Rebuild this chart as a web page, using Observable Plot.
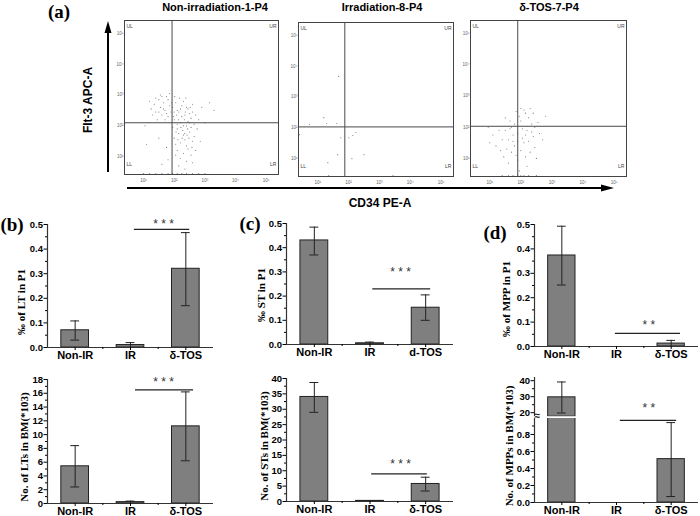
<!DOCTYPE html>
<html><head><meta charset="utf-8">
<script src="https://cdn.jsdelivr.net/npm/d3@7"></script>
<script src="https://cdn.jsdelivr.net/npm/@observablehq/plot@0.6"></script>
<style>
body{margin:0;background:#fff;}
#root{position:relative;width:700px;height:516px;overflow:hidden;background:#fff;font-family:'Liberation Sans',Arial,sans-serif;color:#000;}
.lbl{position:absolute;transform:translate(-50%,-50%);white-space:nowrap;line-height:1;}
.pl{font-family:'Liberation Serif','Times New Roman',serif;font-weight:bold;font-size:19px;}
.tt{font-weight:bold;font-size:11px;}
.ax{font-weight:bold;font-size:12px;}
.yl{font-family:'Liberation Serif','Times New Roman',serif;font-weight:bold;font-size:11px;transform:translate(-50%,-50%) rotate(-90deg);}
</style></head><body><div id="root"></div>
<script>
// ---------- data ----------
const groupsB = ["Non-IR", "IR", "δ-TOS"];
const groupsC = ["Non-IR", "IR", "d-TOS"];

// (b) long-term HSC
const ltPct = [0.07, 0.01, 0.32];
const ltPctLo = [0.03, 0.0, 0.17];
const ltPctHi = [0.108, 0.02, 0.467];
const ltNum = [5.4, 0.2, 11.2];
const ltNumLo = [2.4, 0.0, 6.2];
const ltNumHi = [8.4, 0.35, 16.2];

// (c) short-term HSC
const stPct = [0.43, 0.005, 0.152];
const stPctLo = [0.37, 0.0, 0.1];
const stPctHi = [0.485, 0.01, 0.205];
const stNum = [34, 0.2, 5.7];
const stNumLo = [29, 0.0, 3.4];
const stNumHi = [38.7, 0.3, 7.9];

// (d) MPP
const mppPct = [0.373, 0, 0.012];
const mppPctLo = [0.252, 0, 0.0];
const mppPctHi = [0.493, 0, 0.025];
const mppNum = [29.6, 0, 0.51];
const mppNumLo = [19.8, 0, 0.07];
const mppNumHi = [39.2, 0, 0.94];

// tick labels
const pctTicks = [0, 0.1, 0.2, 0.3, 0.4, 0.5];
const pctMinor = [0.05, 0.15, 0.25, 0.35, 0.45];
const ltTicks = [0, 2, 4, 6, 8, 10, 12, 14, 16, 18];
const ltMinor = [1, 3, 5, 7, 9, 11, 13, 15, 17];
const stTicks = [0, 5, 10, 15, 20, 25, 30, 35, 40];
const stMinor = [2.5, 7.5, 12.5, 17.5, 22.5, 27.5, 32.5, 37.5];
const mppLowTicks = [0, 0.2, 0.4, 0.6, 0.8];
const mppLowMinor = [0.1, 0.3, 0.5, 0.7, 0.9];
const mppHighTicks = [20, 30, 40];
const mppHighMinor = [25, 35];
const decadeTicks = [1, 2, 3, 4, 5];
const sup = ["⁰", "¹", "²", "³", "⁴", "⁵"];

// flow cytometry events (log10 CD34, log10 Flt-3)
const flowNonIR = [
  [1.25,2.55],[1.35,2.7],[1.4,2.45],[1.5,2.85],[1.55,2.6],[1.6,2.35],[1.65,2.75],[1.7,2.5],[1.75,2.95],[1.8,2.3],
  [1.85,2.65],[1.45,2.2],[1.3,2.35],[1.6,2.95],[1.7,2.2],[1.2,2.8],[1.5,2.45],[1.8,2.85],[1.9,2.45],[1.65,2.55],
  [1.55,3.0],[1.75,2.4],[1.4,2.9],[1.85,3.05],
  [1.95,2.6],[2.0,2.2],[2.05,2.75],[2.1,1.9],[2.15,2.45],[2.2,2.1],[2.25,2.65],[2.3,1.7],[2.35,2.35],[2.4,2.0],
  [2.45,2.55],[2.5,1.8],[2.55,2.25],[2.6,1.5],[2.65,2.05],[2.0,1.6],[2.1,2.5],[2.2,1.45],[2.3,2.8],[2.4,1.35],
  [2.5,2.4],[2.6,2.7],[1.95,1.95],[2.05,1.4],[2.15,1.75],[2.25,2.3],[2.35,1.55],[2.45,2.15],[2.55,1.95],[2.65,1.65],
  [2.7,2.35],[2.0,2.45],[2.1,2.05],[2.2,2.55],[2.3,2.0],[2.4,2.6],[2.5,2.1],[2.12,1.55],[2.28,1.85],[2.42,1.7],
  [2.18,2.9],[2.38,2.9],[2.02,2.95],[1.98,2.3],[2.6,2.45],[2.75,1.9],[2.8,2.2],[2.33,2.2],[2.48,1.6],[2.58,1.3],
  [2.08,2.35],[2.22,1.95],[2.36,2.45],[2.14,2.2],[2.26,1.6],[2.44,1.9],[1.92,2.75],[2.06,1.8],[2.52,2.6],[2.34,1.75],
  [2.1,1.2],[2.3,1.1],[2.45,1.25],[2.2,0.95],[2.4,0.85],[2.55,1.05],[2.15,0.7],[2.35,0.6],[2.6,0.8],[2.05,1.05],
  [1.8,0.9],[1.75,1.3],[2.7,1.2],
  [3.0,2.1],[3.15,2.75],[2.9,2.6],[1.05,2.0],[1.1,1.4],[1.5,1.6],[3.3,2.5],[1.6,0.75],[2.85,1.5],
  [1.0,0.45],[1.2,0.45],[1.4,0.45],[1.6,0.45],[1.8,0.45],[1.95,0.45],[2.1,0.45],[2.25,0.45],[2.4,0.45],[2.6,0.45],[2.8,0.45],[3.0,0.45]
];
const flowIR = [
  [1.68,3.67],[1.2,2.33],[0.74,2.11],[1.29,2.14],[1.62,2.14],[1.75,1.68],[2.01,1.68],[2.14,1.75],[2.24,1.85],
  [1.65,1.13],[2.11,1.0],[2.5,1.13],[1.33,0.87],[0.41,1.78],[1.36,0.45],[3.44,0.45]
];
const flowTOS = [
  [1.5,1.9],[1.6,1.6],[1.7,2.0],[1.8,1.4],[1.9,1.8],[2.0,2.2],[2.1,1.5],[2.2,1.9],[2.3,1.2],[2.4,1.7],
  [1.55,1.3],[1.65,2.2],[1.75,1.75],[1.85,1.1],[1.95,2.35],[2.05,1.65],[2.15,2.45],[2.25,1.55],[2.35,2.1],[2.45,1.35],
  [1.4,1.6],[1.3,1.9],[1.2,1.4],[1.1,1.75],[1.45,1.05],[1.6,0.85],[1.9,0.95],[2.0,1.25],[2.1,2.55],[2.25,2.3],
  [2.4,2.45],[2.0,2.6],[1.85,2.5],[2.3,2.6],[2.55,2.15],[2.6,1.8],[2.7,1.6],[2.5,1.0],[1.7,1.2],[1.8,2.1],
  [2.15,1.05],[1.35,1.25],[1.0,1.5],[0.95,2.0],[2.8,2.35],[1.95,0.6],[2.2,0.75],[1.5,2.3],[2.05,1.95],[1.75,1.55],
  [2.35,1.85],[2.45,2.0],[1.65,1.95],[1.9,1.55],[2.15,1.75],
  [1.4,0.45],[1.6,0.45],[1.75,0.45],[1.9,0.45],[2.0,0.45],[2.1,0.45],[2.25,0.45],[2.5,0.45]
];

// ---------- helpers ----------
const root = document.getElementById("root");
function place(el, left, top) {
  el.style.position = "absolute";
  el.style.left = left + "px";
  el.style.top = top + "px";
  root.appendChild(el);
}
function label(text, x, y, cls, extra) {
  const d = document.createElement("div");
  d.className = "lbl " + cls;
  d.textContent = text;
  d.style.left = x + "px";
  d.style.top = y + "px";
  if (extra) Object.assign(d.style, extra);
  root.appendChild(d);
}
const SANS = "'Liberation Sans', Arial, sans-serif";

function barPanel(o) {
  const ML = 42, MR = 6, MT = 16, MB = 22;
  const W = o.x1 - o.x0, H = o.y1 - o.y0;
  const idx = [0, 1, 2];
  const ylo = o.yDomain[0];
  const withBar = idx.filter(i => o.vals[i] > ylo);
  const withErr = idx.filter(i => o.hi[i] > ylo);
  const marks = [
    Plot.rectY(withBar, {x1: i => i - 0.25, x2: i => i + 0.25, y1: ylo, y2: i => o.vals[i],
      fill: "#7f7f7f", stroke: "#222", strokeWidth: 1, clip: true}),
    Plot.ruleX(withErr, {x: i => i, y1: i => Math.max(o.lo[i], ylo), y2: i => o.hi[i], stroke: "#222", strokeWidth: 1, clip: true}),
    Plot.ruleY(withErr, {y: i => o.hi[i], x1: i => i - 0.08, x2: i => i + 0.08, stroke: "#222", strokeWidth: 1, clip: true}),
    Plot.ruleY(withErr.filter(i => o.lo[i] > ylo), {y: i => o.lo[i], x1: i => i - 0.08, x2: i => i + 0.08, stroke: "#222", strokeWidth: 1, clip: true}),
    Plot.ruleX([-0.5], {stroke: "#333", strokeWidth: 1.2}),
    Plot.axisY({ticks: o.yTicks, tickFormat: o.yFmt, tickSize: 3.5, tickPadding: 1, label: null, fontWeight: "bold", fontSize: 9.5}),
    Plot.axisY({ticks: o.yMinor, tickSize: 2, tickFormat: () => "", label: null})
  ];
  if (o.showX !== false) {
    marks.push(
      Plot.ruleY([ylo], {stroke: "#333", strokeWidth: 1.2}),
      Plot.axisX({ticks: idx, tickFormat: i => o.cats[i], tickSize: 3, tickPadding: 1, label: null, fontWeight: "bold", fontSize: 11}),
      Plot.axisX({ticks: [0.5, 1.5], tickSize: 2, tickFormat: () => "", label: null})
    );
  }
  if (o.sig) marks.push(Plot.ruleY([o.sig.y], {x1: o.sig.x1, x2: o.sig.x2, stroke: "#222", strokeWidth: 1.2}));
  if (o.stars) marks.push(Plot.text([o.stars.text], {x: o.stars.x, y: o.stars.y, fontSize: 12, fill: "#333", fontWeight: "normal", fontFamily: SANS}));
  if (o.brk) marks.push(Plot.text(["≈"], {frameAnchor: "bottom-left", dy: 2, fontSize: 10, fontWeight: "bold", fontFamily: SANS}));
  const xScale = {type: "linear", domain: [-0.5, 2.5]};
  if (o.showX === false) xScale.axis = null;
  const svg = Plot.plot({
    width: W + ML + MR, height: H + MT + MB,
    marginLeft: ML, marginRight: MR, marginTop: MT, marginBottom: MB,
    x: xScale,
    y: {type: "linear", domain: o.yDomain},
    style: {fontFamily: SANS, fontSize: "10px", background: "transparent", color: "#000", overflow: "visible"},
    marks
  });
  place(svg, o.x0 - ML, o.y0 - MT);
  if (o.ylabel) label(o.ylabel, o.lx, o.ly, "yl");
}

function flowPanel(pts, o) {
  const ml = 12, mr = 3, mt = 3, mb = 12;
  const svg = Plot.plot({
    width: (o.x1 - o.x0) + ml + mr, height: (o.y1 - o.y0) + mt + mb,
    marginLeft: ml, marginRight: mr, marginTop: mt, marginBottom: mb,
    x: {type: "linear", domain: [0.38, 5.4]},
    y: {type: "linear", domain: [0.42, 5.42]},
    style: {fontFamily: SANS, fontSize: "5px", background: "transparent", color: "#333", overflow: "visible"},
    marks: [
      Plot.dot(pts, {x: d => d[0], y: d => d[1], r: 0.55, fill: "#777"}),
      Plot.ruleX([o.vx], {stroke: "#4a4a4a", strokeWidth: 1}),
      Plot.ruleY([o.hy], {stroke: "#4a4a4a", strokeWidth: 1}),
      Plot.frame({stroke: "#444", strokeWidth: 1}),
      Plot.axisX({ticks: decadeTicks, tickFormat: d => "10" + sup[d], tickSize: 0, tickPadding: 4, label: null, fontSize: 4.5, fill: "#666"}),
      Plot.axisY({ticks: decadeTicks, tickFormat: d => "10" + sup[d], tickSize: 0, tickPadding: 1, label: null, fontSize: 4.5, fill: "#666"}),
      Plot.text(["UL"], {frameAnchor: "top-left", dx: 2, dy: 4, fontSize: 5, textAnchor: "start", fill: "#444"}),
      Plot.text(["UR"], {frameAnchor: "top-right", dx: -2, dy: 4, fontSize: 5, textAnchor: "end", fill: "#444"}),
      Plot.text(["LL"], {frameAnchor: "bottom-left", dx: 2, dy: -9, fontSize: 5, textAnchor: "start", fill: "#444"}),
      Plot.text(["LR"], {frameAnchor: "bottom-right", dx: -2, dy: -9, fontSize: 5, textAnchor: "end", fill: "#444"})
    ]
  });
  place(svg, o.x0 - ml, o.y0 - mt);
}

// ---------- panel (a) ----------
flowPanel(flowNonIR, {x0: 124, x1: 278, y0: 20, y1: 174, vx: 1.93, hy: 2.1});
flowPanel(flowIR, {x0: 298, x1: 453, y0: 22, y1: 176, vx: 1.88, hy: 2.03});
flowPanel(flowTOS, {x0: 470, x1: 626, y0: 20, y1: 176, vx: 1.9, hy: 2.03});
label("Non-irradiation-1-P4", 215, 7, "tt");
label("Irradiation-8-P4", 382, 7, "tt");
label("δ-TOS-7-P4", 549, 7, "tt");
label("(a)", 59, 11, "pl");
label("Flt-3 APC-A", 88, 100, "ax", {transform: "translate(-50%,-50%) rotate(-90deg)"});
label("CD34 PE-A", 380, 203, "ax");

// arrows (annotation)
const ns = "http://www.w3.org/2000/svg";
const ov = document.createElementNS(ns, "svg");
ov.setAttribute("width", 700); ov.setAttribute("height", 516);
ov.style.pointerEvents = "none";
ov.innerHTML = `
  <line x1="108" y1="172" x2="108" y2="30" stroke="#000" stroke-width="2"/>
  <polygon points="108,21 104.5,33 111.5,33" fill="#000"/>
  <line x1="127" y1="188" x2="604" y2="188" stroke="#000" stroke-width="2"/>
  <polygon points="614,188 601,184.5 601,191.5" fill="#000"/>`;
place(ov, 0, 0);

// ---------- panel (b) ----------
barPanel({x0: 47, x1: 213, y0: 224, y1: 347, yDomain: [0, 0.5], yTicks: pctTicks, yMinor: pctMinor, yFmt: d3.format(".1f"),
  cats: groupsB, vals: ltPct, lo: ltPctLo, hi: ltPctHi,
  sig: {y: 0.48, x1: 1.07, x2: 2.07}, stars: {text: "* * *", x: 1.6, y: 0.5},
  ylabel: "‰ of LT in P1", lx: 21, ly: 302});
barPanel({x0: 47, x1: 213, y0: 379, y1: 503, yDomain: [0, 18], yTicks: ltTicks, yMinor: ltMinor, yFmt: d3.format("d"),
  cats: groupsB, vals: ltNum, lo: ltNumLo, hi: ltNumHi,
  sig: {y: 16.5, x1: 1.09, x2: 2.14}, stars: {text: "* * *", x: 1.6, y: 17.6},
  ylabel: "No. of LTs in BM(*103)", lx: 24, ly: 447});
label("(b)", 12, 224, "pl");

// ---------- panel (c) ----------
barPanel({x0: 286, x1: 453, y0: 223, y1: 344, yDomain: [0, 0.5], yTicks: pctTicks, yMinor: pctMinor, yFmt: d3.format(".1f"),
  cats: groupsC, vals: stPct, lo: stPctLo, hi: stPctHi,
  sig: {y: 0.23, x1: 1.05, x2: 2.09}, stars: {text: "* * *", x: 1.55, y: 0.3},
  ylabel: "‰ ST in P1", lx: 261, ly: 295});
barPanel({x0: 286, x1: 453, y0: 378, y1: 501, yDomain: [0, 40], yTicks: stTicks, yMinor: stMinor, yFmt: d3.format("d"),
  cats: groupsB, vals: stNum, lo: stNumLo, hi: stNumHi,
  sig: {y: 9, x1: 1.03, x2: 2.03}, stars: {text: "* * *", x: 1.55, y: 12.3},
  ylabel: "No. of STs in BM(*103)", lx: 264, ly: 446});
label("(c)", 250, 223, "pl");

// ---------- panel (d) ----------
barPanel({x0: 534, x1: 698, y0: 224, y1: 346, yDomain: [0, 0.5], yTicks: pctTicks, yMinor: pctMinor, yFmt: d3.format(".1f"),
  cats: groupsB, vals: mppPct, lo: mppPctLo, hi: mppPctHi,
  sig: {y: 0.054, x1: 0.98, x2: 2.17}, stars: {text: "* *", x: 1.59, y: 0.088},
  ylabel: "‰ of MPP in P1", lx: 506, ly: 299});
barPanel({x0: 534, x1: 698, y0: 418, y1: 502, yDomain: [0, 0.988], yTicks: mppLowTicks, yMinor: mppLowMinor, yFmt: d3.format(".1f"),
  cats: groupsB, vals: mppNum, lo: mppNumLo, hi: mppNumHi,
  sig: {y: 0.965, x1: 1.07, x2: 2.1},
  ylabel: "No. of MPPs in BM(*103)", lx: 509, ly: 446});
barPanel({x0: 534, x1: 698, y0: 376.8, y1: 416, yDomain: [17.5, 42], yTicks: mppHighTicks, yMinor: mppHighMinor, yFmt: d3.format("d"),
  cats: groupsB, vals: mppNum, lo: mppNumLo, hi: mppNumHi, showX: false, brk: true,
  stars: {text: "* *", x: 1.59, y: 23}});
label("(d)", 495, 232, "pl");
</script></body></html>
